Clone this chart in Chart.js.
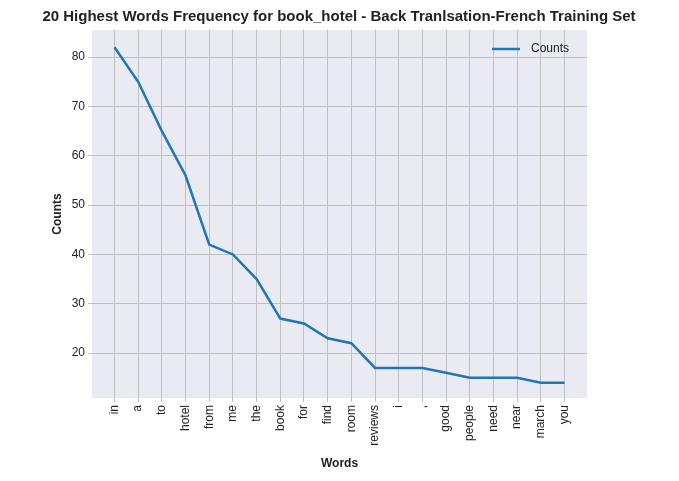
<!DOCTYPE html>
<html>
<head>
<meta charset="utf-8">
<script src="https://cdn.jsdelivr.net/npm/chart.js@4/dist/chart.umd.min.js"></script>
<style>
  html, body { margin: 0; padding: 0; background: #fff; }
  #wrap { width: 679px; height: 481px; }
</style>
</head>
<body>
<div id="wrap"><canvas id="c"></canvas></div>
<script>
const words = ['in', 'a', 'to', 'hotel', 'from', 'me', 'the', 'book', 'for', 'find',
  'room', 'reviews', 'i', ',', 'good', 'people', 'need', 'near', 'march', 'you'];
const counts = [82, 75, 65, 56, 42, 40, 35, 27, 26, 23, 22, 17, 17, 17, 16, 15, 15, 15, 14, 14];
const yTicks = [20, 30, 40, 50, 60, 70, 80];

const FONT = 'Liberation Sans, Arial, sans-serif';

const decorPlugin = {
  id: 'decor',
  beforeDraw(chart) {
    const { ctx, chartArea: a } = chart;
    ctx.save();
    ctx.fillStyle = '#eaeaf2';
    ctx.fillRect(a.left, a.top, a.right - a.left, a.bottom - a.top);
    ctx.restore();
  },
  afterDraw(chart) {
    const { ctx, chartArea: a } = chart;
    ctx.save();
    ctx.fillStyle = '#222';
    ctx.textAlign = 'center';
    ctx.textBaseline = 'middle';
    ctx.font = 'bold 15px ' + FONT;
    ctx.fillText('20 Highest Words Frequency for book_hotel - Back Tranlsation-French Training Set', 339, 17);
    ctx.font = 'bold 12px ' + FONT;
    ctx.fillText('Words', (a.left + a.right) / 2, 464);
    ctx.translate(58, (a.top + a.bottom) / 2);
    ctx.rotate(-Math.PI / 2);
    ctx.fillText('Counts', 0, 0);
    ctx.restore();
    // legend
    ctx.save();
    ctx.strokeStyle = '#1f77b4';
    ctx.lineWidth = 2.5;
    ctx.beginPath();
    ctx.moveTo(a.right - 95, 49);
    ctx.lineTo(a.right - 67, 49);
    ctx.stroke();
    ctx.fillStyle = '#222';
    ctx.font = '12px ' + FONT;
    ctx.textBaseline = 'middle';
    ctx.fillText('Counts', a.right - 56, 49);
    ctx.restore();
  }
};

new Chart(document.getElementById('c'), {
  type: 'line',
  data: {
    datasets: [{
      label: 'Counts',
      data: counts.map((v, i) => ({ x: i, y: v })),
      borderColor: '#1f77b4',
      borderWidth: 2.5,
      pointRadius: 0,
      tension: 0
    }]
  },
  options: {
    responsive: true,
    maintainAspectRatio: false,
    animation: false,
    layout: { padding: { top: 30, right: 92, left: 0, bottom: 0 } },
    scales: {
      x: {
        type: 'linear',
        min: -0.95,
        max: 19.95,
        afterBuildTicks: s => { s.ticks = words.map((w, i) => ({ value: i })); },
        afterFit: s => { s.height = 83; },
        ticks: {
          callback: v => words[v],
          autoSkip: false,
          maxRotation: 90,
          minRotation: 90,
          color: '#222',
          font: { family: FONT, size: 12 }
        },
        grid: { color: '#c0c0c0', tickLength: 4 },
        border: { display: false }
      },
      y: {
        min: 10.9,
        max: 85.5,
        afterBuildTicks: s => { s.ticks = yTicks.map(v => ({ value: v })); },
        afterFit: s => { s.width = 92; },
        ticks: { color: '#222', font: { family: FONT, size: 12 } },
        grid: { color: '#c0c0c0', tickLength: 4 },
        border: { display: false }
      }
    },
    plugins: {
      title: { display: false },
      tooltip: { enabled: false },
      legend: { display: false }
    }
  },
  plugins: [decorPlugin]
});
</script>
</body>
</html>
